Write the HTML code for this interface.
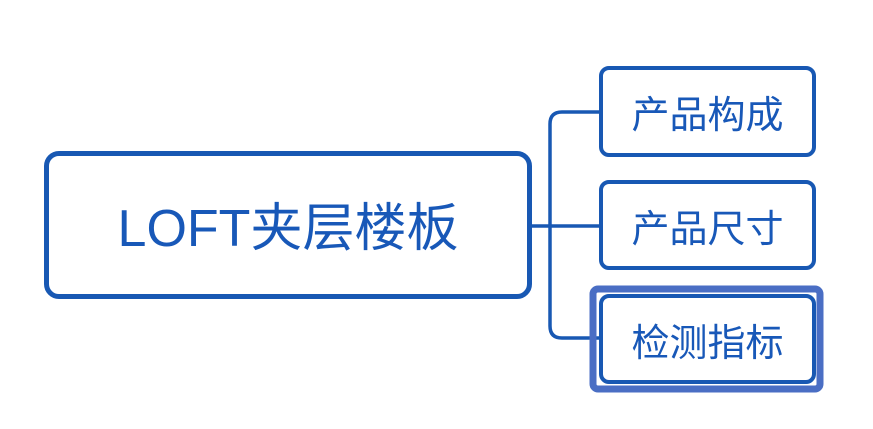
<!DOCTYPE html>
<html><head><meta charset="utf-8"><style>
body{margin:0;width:873px;height:429px;background:#fff;overflow:hidden;position:relative;font-family:"Liberation Sans","Noto Sans CJK SC",sans-serif;color:#1858b8}
.b{position:absolute;box-sizing:border-box;border:4px solid #1858b3;border-radius:10px;background:#fff;display:flex;align-items:center;justify-content:center}
</style></head><body>
<svg width="873" height="429" style="position:absolute;left:0;top:0">
<path d="M530 226 H600 M600 112 H562 Q550 112 550 124 V326 Q550 338 562 338 H600" fill="none" stroke="#1858b3" stroke-width="3.5"/>
<rect x="593" y="289" width="227" height="100" rx="5" fill="none" stroke="#4a6ec4" stroke-width="7"/>
</svg>
<div class="b" style="left:44px;top:151px;width:488px;height:148px;border-width:5px;border-radius:15px;font-size:52px;padding-bottom:4px">LOFT夹层楼板</div>
<div class="b" style="left:599px;top:66px;width:217px;height:91px;font-size:38px">产品构成</div>
<div class="b" style="left:599px;top:180px;width:217px;height:90px;font-size:38px">产品尺寸</div>
<div class="b" style="left:599px;top:294px;width:217px;height:90px;font-size:38px">检测指标</div>
</body></html>
